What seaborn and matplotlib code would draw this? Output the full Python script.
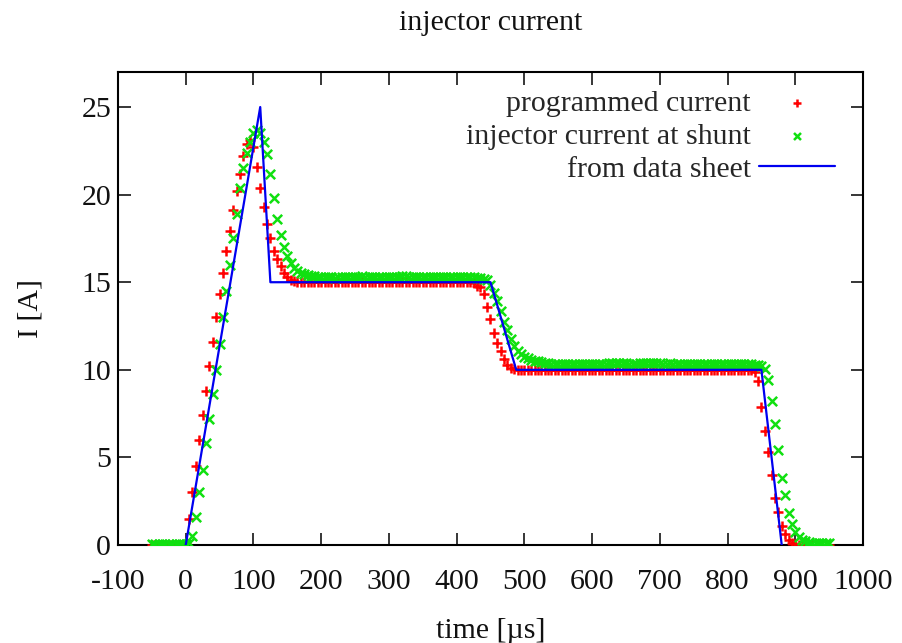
import matplotlib
matplotlib.use("Agg")
import matplotlib.pyplot as plt
import seaborn as sns
import pandas as pd

# ---------------- data ----------------
time_us = [
    -50, -45, -40, -35, -30, -25, -20, -15, -10, -5,
    0, 5, 10, 15, 20, 25, 30, 35, 40, 45,
    50, 55, 60, 65, 70, 75, 80, 85, 90, 95,
    100, 105, 110, 115, 120, 125, 130, 135, 140, 145,
    150, 155, 160, 165, 170, 175, 180, 185, 190, 195,
    200, 205, 210, 215, 220, 225, 230, 235, 240, 245,
    250, 255, 260, 265, 270, 275, 280, 285, 290, 295,
    300, 305, 310, 315, 320, 325, 330, 335, 340, 345,
    350, 355, 360, 365, 370, 375, 380, 385, 390, 395,
    400, 405, 410, 415, 420, 425, 430, 435, 440, 445,
    450, 455, 460, 465, 470, 475, 480, 485, 490, 495,
    500, 505, 510, 515, 520, 525, 530, 535, 540, 545,
    550, 555, 560, 565, 570, 575, 580, 585, 590, 595,
    600, 605, 610, 615, 620, 625, 630, 635, 640, 645,
    650, 655, 660, 665, 670, 675, 680, 685, 690, 695,
    700, 705, 710, 715, 720, 725, 730, 735, 740, 745,
    750, 755, 760, 765, 770, 775, 780, 785, 790, 795,
    800, 805, 810, 815, 820, 825, 830, 835, 840, 845,
    850, 855, 860, 865, 870, 875, 880, 885, 890, 895,
    900, 905, 910, 915, 920, 925, 930, 935, 940, 945,
    950,
]

programmed_current = [
    0.0, 0.0, 0.0, 0.0, 0.0, 0.0, 0.0, 0.0, 0.0, 0.0,
    0.1, 1.5, 3.0, 4.5, 6.0, 7.4, 8.8, 10.2, 11.6, 13.0,
    14.3, 15.5, 16.8, 17.9, 19.1, 20.2, 21.2, 22.2, 22.9, 23.1,
    22.7, 21.6, 20.4, 19.3, 18.3, 17.5, 16.8, 16.3, 15.9, 15.55,
    15.3, 15.12, 15.05, 15.02, 15.0, 15.0, 15.0, 15.0, 15.0, 15.0,
    15.0, 15.0, 15.0, 15.0, 15.0, 15.0, 15.0, 15.0, 15.0, 15.0,
    15.0, 15.0, 15.0, 15.0, 15.0, 15.0, 15.0, 15.0, 15.0, 15.0,
    15.0, 15.0, 15.0, 15.0, 15.0, 15.0, 15.0, 15.0, 15.0, 15.0,
    15.0, 15.0, 15.0, 15.0, 15.0, 15.0, 15.0, 15.0, 15.0, 15.0,
    15.0, 15.0, 15.0, 15.0, 15.0, 14.95, 14.8, 14.7, 14.3, 13.6,
    12.9, 12.1, 11.55, 11.05, 10.6, 10.25, 10.08, 10.02, 10.0, 10.0,
    10.0, 10.0, 10.0, 10.0, 10.0, 10.0, 10.0, 10.0, 10.0, 10.0,
    10.0, 10.0, 10.0, 10.0, 10.0, 10.0, 10.0, 10.0, 10.0, 10.0,
    10.0, 10.0, 10.0, 10.0, 10.0, 10.0, 10.0, 10.0, 10.0, 10.0,
    10.0, 10.0, 10.0, 10.0, 10.0, 10.0, 10.0, 10.0, 10.0, 10.0,
    10.0, 10.0, 10.0, 10.0, 10.0, 10.0, 10.0, 10.0, 10.0, 10.0,
    10.0, 10.0, 10.0, 10.0, 10.0, 10.0, 10.0, 10.0, 10.0, 10.0,
    10.0, 10.0, 10.0, 10.0, 10.0, 10.0, 10.0, 10.0, 9.85, 9.35,
    7.9, 6.5, 5.3, 4.0, 2.7, 1.9, 1.1, 0.6, 0.3, 0.12,
    0.05, 0.0, 0.0, 0.0, 0.0, 0.0, 0.0, 0.0, 0.0, 0.0,
    0.0,
]

shunt_current = [
    0.05, 0.05, 0.05, 0.05, 0.05, 0.05, 0.05, 0.05, 0.05, 0.05,
    0.05, 0.1, 0.5, 1.6, 3.0, 4.3, 5.8, 7.2, 8.6, 10.0,
    11.5, 13.0, 14.5, 16.0, 17.5, 18.9, 20.4, 21.5, 22.4, 23.0,
    23.5, 23.7, 23.5, 23.0, 22.3, 21.2, 19.8, 18.6, 17.7, 17.0,
    16.5, 16.1, 15.8, 15.65, 15.55, 15.47, 15.42, 15.38, 15.35, 15.32,
    15.3, 15.28, 15.27, 15.27, 15.26, 15.27, 15.27, 15.28, 15.28, 15.29,
    15.3, 15.32, 15.33, 15.32, 15.3, 15.29, 15.28, 15.28, 15.28, 15.29,
    15.29, 15.3, 15.31, 15.32, 15.33, 15.33, 15.32, 15.3, 15.29, 15.29,
    15.28, 15.28, 15.29, 15.29, 15.3, 15.3, 15.29, 15.29, 15.29, 15.3,
    15.3, 15.29, 15.29, 15.28, 15.28, 15.27, 15.26, 15.24, 15.2, 15.1,
    14.85, 14.4, 13.95, 13.35, 12.75, 12.25, 11.75, 11.35, 11.05, 10.9,
    10.75, 10.65, 10.58, 10.52, 10.48, 10.44, 10.4, 10.37, 10.35, 10.34,
    10.33, 10.33, 10.32, 10.32, 10.31, 10.32, 10.33, 10.33, 10.34, 10.35,
    10.36, 10.35, 10.34, 10.34, 10.35, 10.37, 10.39, 10.4, 10.4, 10.39,
    10.37, 10.36, 10.35, 10.36, 10.38, 10.4, 10.41, 10.41, 10.4, 10.38,
    10.37, 10.36, 10.36, 10.37, 10.36, 10.35, 10.35, 10.34, 10.35, 10.36,
    10.35, 10.34, 10.34, 10.33, 10.34, 10.35, 10.34, 10.33, 10.33, 10.33,
    10.34, 10.34, 10.33, 10.33, 10.32, 10.32, 10.31, 10.31, 10.3, 10.25,
    10.2, 10.05, 9.4, 8.2, 6.9, 5.4, 3.8, 2.85, 1.85, 1.2,
    0.75, 0.45, 0.3, 0.2, 0.15, 0.12, 0.1, 0.1, 0.1, 0.1,
    0.1,
]

sheet_time_us = [0, 110, 125, 450, 488, 850, 880]
sheet_current = [0, 25, 15, 15, 10, 10, 0]

labels = ["programmed current", "injector current at shunt", "from data sheet"]
x_ticks = [-100, 0, 100, 200, 300, 400, 500, 600, 700, 800, 900, 1000]
y_ticks = [0, 5, 10, 15, 20, 25]

# ---------------- styling ----------------
sns.set_style("ticks")
plt.rcParams["font.family"] = ["Liberation Serif", "DejaVu Serif"]
FS = 21.5

df_meas = pd.DataFrame({"t": time_us, "prog": programmed_current, "shunt": shunt_current})
df_sheet = pd.DataFrame({"t": sheet_time_us, "I": sheet_current})

fig = plt.figure(figsize=(9.03, 6.43), dpi=100)
ax = fig.add_axes([118 / 903, 1 - 545 / 643, (863 - 118) / 903, (545 - 72) / 643])

sns.scatterplot(data=df_meas, x="t", y="prog", ax=ax, marker="+", color="#ff0000",
                s=55, linewidth=1.8, label=labels[0], zorder=3)
sns.scatterplot(data=df_meas, x="t", y="shunt", ax=ax, marker="x", color="#10e010",
                s=45, linewidth=1.8, label=labels[1], zorder=4)
sns.lineplot(data=df_sheet, x="t", y="I", ax=ax, color="#0000f0", linewidth=1.6,
             label=labels[2], zorder=5, sort=False)

ax.set_xlim(-100, 1000)
ax.set_ylim(0, 27)
ax.set_xticks(x_ticks)
ax.set_yticks(y_ticks)
ax.set_xticklabels([str(v) for v in x_ticks])
ax.set_yticklabels([str(v) for v in y_ticks])

ax.tick_params(axis="both", direction="in", length=9, width=1.1, color="black",
               top=True, right=True, labelsize=FS, labelcolor="#111111")
ax.tick_params(axis="x", pad=17)
ax.tick_params(axis="y", pad=5)
for sp in ax.spines.values():
    sp.set_visible(True)
    sp.set_linewidth(1.5)
    sp.set_color("black")

ax.set_title("injector current", fontsize=FS, pad=30, color="#111111")
ax.set_xlabel("time [µs]", fontsize=FS, color="#111111")
ax.set_ylabel("I [A]", fontsize=FS, color="#111111")
ax.xaxis.set_label_coords(0.5, -0.155)
ax.yaxis.set_label_coords(-0.10, 0.5)

leg = ax.legend(loc="upper right", bbox_to_anchor=(0.9624, 0.962), frameon=False,
                markerfirst=False, fontsize=FS, handlelength=2.55, handletextpad=0.27,
                labelspacing=0.2, borderaxespad=0, borderpad=0, markerscale=0.75)

fig.savefig("out.png", dpi=100)
